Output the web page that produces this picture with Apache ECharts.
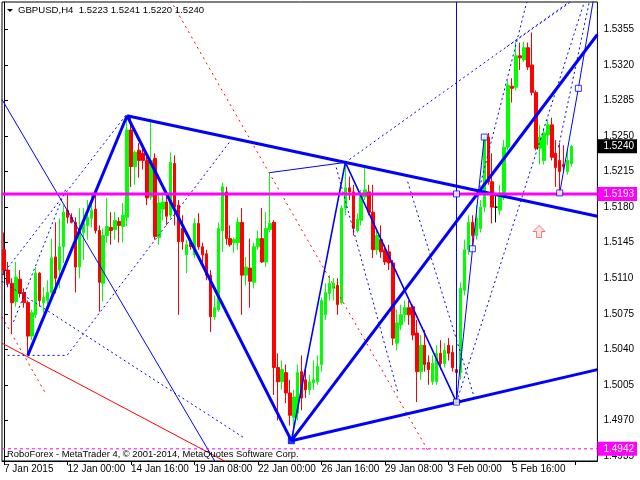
<!DOCTYPE html>
<html><head><meta charset="utf-8">
<script src="https://cdn.jsdelivr.net/npm/echarts@6/dist/echarts.min.js"></script>
<style>html,body{margin:0;padding:0;background:#fff}#c{width:640px;height:480px}</style>
</head><body><div id="c"></div>
<script>
const tickLabels = ['7 Jan 2015','12 Jan 00:00','14 Jan 16:00','19 Jan 08:00','22 Jan 00:00','26 Jan 16:00','29 Jan 08:00','3 Feb 00:00','5 Feb 16:00'];
const priceTicks = [1.4935,1.4970,1.5005,1.5040,1.5075,1.5110,1.5145,1.5180,1.5215,1.5250,1.5285,1.5320,1.5355];
const slotCount = 150;
const open = [
1.5138,1.5118,1.5105,1.5087,1.5109,1.5096,1.5086,1.5053,1.5074,1.5115,
1.5086,1.5088,1.5096,1.5131,1.5118,1.5141,1.5177,1.5170,1.5165,1.5121,
1.5155,1.5162,1.5169,1.5178,1.5157,1.5105,1.5152,1.5160,1.5158,1.5166,
1.5161,1.5170,1.5256,1.5220,1.5236,1.5233,1.5226,1.5190,1.5228,1.5150,
1.5178,1.5185,1.5172,1.5223,1.5182,1.5159,1.5133,1.5145,1.5133,1.5164,
1.5141,1.5134,1.5113,1.5072,1.5079,1.5157,1.5195,1.5149,1.5145,1.5145,
1.5165,1.5113,1.5120,1.5106,1.5141,1.5149,1.5126,1.5158,1.5165,1.5022,
1.5008,1.5017,1.4997,1.4973,1.4977,1.5018,1.5010,1.5000,1.5007,1.5008,
1.5025,1.5074,1.5095,1.5100,1.5103,1.5086,1.5179,1.5199,1.5195,1.5157,
1.5167,1.5190,1.5195,1.5175,1.5138,1.5148,1.5138,1.5136,1.5125,1.5046,
1.5064,1.5074,1.5081,1.5082,1.5056,1.5018,1.5044,1.5027,1.5008,1.5008,
1.5036,1.5026,1.5044,1.5037,1.5020,1.5017,1.5098,1.5138,1.5165,1.5152,
1.5159,1.5180,1.5249,1.5205,1.5180,1.5177,1.5189,1.5239,1.5299,1.5298,
1.5329,1.5325,1.5337,1.5320,1.5293,1.5238,1.5226,1.5251,1.5261,1.5233,
1.5226,1.5222,1.5215,1.5223];
const close = [
1.5118,1.5105,1.5086,1.5111,1.5095,1.5086,1.5053,1.5076,1.5115,1.5088,
1.5091,1.5096,1.5130,1.5110,1.5141,1.5175,1.5170,1.5165,1.5121,1.5159,
1.5164,1.5170,1.5177,1.5157,1.5106,1.5152,1.5161,1.5157,1.5167,1.5162,
1.5172,1.5256,1.5220,1.5234,1.5226,1.5226,1.5189,1.5226,1.5151,1.5184,
1.5185,1.5171,1.5224,1.5180,1.5146,1.5146,1.5143,1.5141,1.5164,1.5141,
1.5133,1.5113,1.5072,1.5081,1.5159,1.5200,1.5149,1.5143,1.5148,1.5165,
1.5113,1.5121,1.5107,1.5141,1.5149,1.5126,1.5159,1.5164,1.5022,1.5008,
1.5020,1.4997,1.4975,1.4993,1.5017,1.4992,1.5000,1.5008,1.5010,1.5023,
1.5088,1.5096,1.5105,1.5105,1.5084,1.5179,1.5199,1.5195,1.5159,1.5168,
1.5192,1.5197,1.5175,1.5138,1.5152,1.5136,1.5126,1.5125,1.5051,1.5066,
1.5074,1.5081,1.5074,1.5054,1.5018,1.5044,1.5025,1.5020,1.5026,1.5036,
1.5026,1.5039,1.5036,1.5022,1.5017,1.5100,1.5138,1.5165,1.5152,1.5169,
1.5180,1.5249,1.5205,1.5180,1.5180,1.5194,1.5239,1.5300,1.5297,1.5329,
1.5327,1.5337,1.5318,1.5293,1.5238,1.5249,1.5253,1.5261,1.5229,1.5219,
1.5215,1.5220,1.5226,1.5240];
const high = [
1.5155,1.5126,1.5110,1.5126,1.5118,1.5100,1.5088,1.5079,1.5121,1.5116,
1.5101,1.5108,1.5149,1.5165,1.5169,1.5182,1.5194,1.5174,1.5170,1.5179,
1.5179,1.5187,1.5194,1.5194,1.5162,1.5159,1.5189,1.5175,1.5175,1.5170,
1.5184,1.5270,1.5270,1.5236,1.5243,1.5240,1.5230,1.5267,1.5233,1.5194,
1.5192,1.5192,1.5234,1.5231,1.5187,1.5172,1.5148,1.5149,1.5169,1.5174,
1.5145,1.5138,1.5118,1.5093,1.5165,1.5204,1.5200,1.5162,1.5150,1.5170,
1.5179,1.5131,1.5149,1.5145,1.5157,1.5179,1.5175,1.5214,1.5167,1.5036,
1.5029,1.5025,1.5010,1.5000,1.5025,1.5034,1.5020,1.5015,1.5029,1.5034,
1.5091,1.5105,1.5113,1.5110,1.5110,1.5182,1.5224,1.5210,1.5202,1.5174,
1.5197,1.5220,1.5202,1.5202,1.5157,1.5162,1.5143,1.5143,1.5128,1.5079,
1.5084,1.5088,1.5088,1.5084,1.5069,1.5054,1.5059,1.5034,1.5034,1.5044,
1.5049,1.5046,1.5051,1.5044,1.5069,1.5106,1.5148,1.5172,1.5172,1.5182,
1.5187,1.5251,1.5253,1.5233,1.5192,1.5202,1.5246,1.5305,1.5307,1.5343,
1.5342,1.5343,1.5342,1.5352,1.5295,1.5261,1.5258,1.5266,1.5268,1.5246,
1.5243,1.5241,1.5238,1.5241];
const low = [
1.5113,1.5101,1.5056,1.5082,1.5091,1.5081,1.5034,1.5049,1.5071,1.5082,
1.5076,1.5084,1.5088,1.5095,1.5100,1.5125,1.5164,1.5164,1.5096,1.5110,
1.5128,1.5148,1.5160,1.5154,1.5077,1.5087,1.5145,1.5143,1.5148,1.5145,
1.5145,1.5161,1.5200,1.5202,1.5209,1.5217,1.5182,1.5187,1.5148,1.5143,
1.5167,1.5162,1.5169,1.5162,1.5074,1.5138,1.5115,1.5138,1.5130,1.5138,
1.5126,1.5108,1.5057,1.5069,1.5077,1.5136,1.5143,1.5141,1.5135,1.5138,
1.5074,1.5103,1.5081,1.5100,1.5138,1.5125,1.5121,1.5155,1.4995,1.4970,
1.5000,1.4987,1.4965,1.4951,1.4970,1.4980,1.4992,1.4995,1.5000,1.5005,
1.5018,1.5069,1.5088,1.5088,1.5074,1.5084,1.5172,1.5187,1.5152,1.5155,
1.5162,1.5187,1.5172,1.5130,1.5133,1.5130,1.5123,1.5118,1.5044,1.5039,
1.5059,1.5067,1.5064,1.5049,1.4988,1.5010,1.5018,1.5005,1.5005,1.5005,
1.5020,1.5022,1.5029,1.5018,1.4988,1.5010,1.5093,1.5133,1.5139,1.5148,
1.5155,1.5175,1.5202,1.5164,1.5165,1.5172,1.5187,1.5236,1.5283,1.5295,
1.5315,1.5323,1.5315,1.5290,1.5236,1.5222,1.5222,1.5241,1.5226,1.5200,
1.5194,1.5215,1.5212,1.5220];

// chart objects, in (bar index, price)
const thickLines = [
  [[6,1.5034],[31,1.5270]],
  [[31,1.5270],[72.4,1.4950]],
  [[31,1.5270],[149.5,1.5171]],
  [[72.4,1.4950],[149.5,1.5350]],
  [[72.4,1.4950],[149.5,1.5020]]
];
const mediumLines = [
  [[72.4,1.4950],[86,1.5224],[114,1.4988]]
];
const thinLines = [
  [[67,1.5214],[86,1.5224]],
  [[-0.5,1.5286],[54,1.4924]],
  [[114,1.5382],[114,1.4988]],
  [[114,1.4988],[121,1.5249]],
  [[140,1.5194],[144.7,1.5297],[149,1.5396]]
];
const dashedLines = [
  [[0.9,1.5034],[15.9,1.5034],[57.2,1.5246]],
  [[-0.5,1.5113],[31,1.5272]],
  [[2.4,1.5067],[15.7,1.5199]],
  [[86,1.5224],[147,1.5395]],
  [[-0.5,1.5107],[60.4,1.4953]],
  [[83.7,1.5219],[99.2,1.4998]],
  [[101.7,1.5205],[118.7,1.4990]],
  [[119.2,1.5190],[131.7,1.5382]],
  [[114,1.4988],[146.2,1.5382]],
  [[139.7,1.5239],[147.4,1.5381]],
  [[126.7,1.5338],[142.4,1.5381]]
];
const redDotted = [
  [[41.2,1.5389],[106.7,1.4941]],
  [[-0.5,1.5072],[10.4,1.4997]]
];
const redSolid = [
  [[-0.5,1.5046],[56,1.4929]]
];
const squares = [[114,1.5193],[118,1.5139],[121,1.5249],[114,1.4988],[140,1.5194],[144.7,1.5297]];
const pivotSquare = [[72.4,1.4950]];
const arrowPoint = [[134.8,1.5156]];
const levelLine = 1.5193;
const lowLevel = 1.4942;
const bidPrice = 1.5240;
const header = 'GBPUSD,H4  1.5223 1.5241 1.5220 1.5240';
const footer = 'RoboForex - MetaTrader 4, \u00a9 2001-2014, MetaQuotes Software Corp.';

const FONT = 'Liberation Sans';
const yMin = 1.4930, yMax = 1.5382;
const slots = [];
for (let i = 0; i < slotCount; i++) slots.push(String(i));
const candleData = open.map((o, i) => [o, close[i], low[i], high[i]]);

const series = [{
  type: 'candlestick', xAxisIndex: 0, yAxisIndex: 0, z: 2,
  barWidth: 3,
  data: candleData,
  itemStyle: { color: '#00FF00', color0: '#FF0000', borderColor: '#00FF00', borderColor0: '#FF0000', borderColorDoji: '#000000', borderWidth: 1 }
}];
function addLines(list, style, z) {
  list.forEach(pts => series.push({
    type: 'line', xAxisIndex: 1, yAxisIndex: 0, data: pts, symbol: 'none', z: z,
    lineStyle: style, silent: true, animation: false
  }));
}
addLines(redSolid, { color: '#FF0000', width: 1 }, 3);
addLines(redDotted, { color: '#FF0000', width: 1, type: [2, 4] }, 3);
addLines(dashedLines, { color: '#0000FF', width: 1, type: [2, 3] }, 4);
addLines(thinLines, { color: '#0000FF', width: 1 }, 4);
addLines(mediumLines, { color: '#0000FF', width: 1.6 }, 4);
addLines(thickLines, { color: '#0000FF', width: 3 }, 5);
addLines([[[-0.5, levelLine], [149.5, levelLine]]], { color: '#FF00FF', width: 3 }, 6);
addLines([[[-0.5, lowLevel], [149.5, lowLevel]]], { color: '#FF00FF', width: 1, type: [3, 3] }, 6);
series.push({
  type: 'scatter', xAxisIndex: 1, yAxisIndex: 0, data: squares, symbol: 'rect', symbolSize: 6, z: 7,
  itemStyle: { color: '#FFFFFF', borderColor: '#0000FF', borderWidth: 1 }, silent: true
});
series.push({
  type: 'scatter', xAxisIndex: 1, yAxisIndex: 0, data: pivotSquare, symbol: 'rect', symbolSize: 6, z: 7,
  itemStyle: { color: '#0000FF', borderColor: '#0000FF', borderWidth: 1 }, silent: true
});
series.push({
  type: 'scatter', xAxisIndex: 1, yAxisIndex: 0, data: arrowPoint, z: 7,
  symbol: 'path://M6,0 L12,6 L8.5,6 L8.5,12 L3.5,12 L3.5,6 L0,6 Z', symbolSize: [12, 12],
  itemStyle: { color: '#FFE0E0', borderColor: '#FF5050', borderWidth: 1 }, silent: true
});

const labelFont = { fontFamily: FONT, fontSize: 10, color: '#000' };
const option = {
  animation: false,
  backgroundColor: '#FFFFFF',
  grid: { left: 2, right: 39, top: 2, bottom: 19, show: true, borderColor: '#000', borderWidth: 1, backgroundColor: '#FFFFFF' },
  xAxis: [{
    type: 'category', data: slots, boundaryGap: true,
    axisLine: { show: true, lineStyle: { color: '#000', width: 1 } },
    axisTick: { show: true, interval: 15, length: 4, alignWithLabel: true, lineStyle: { color: '#000' } },
    axisLabel: Object.assign({ interval: 15, align: 'left', margin: 3,
      formatter: (v, idx) => (idx % 16 === 0 && tickLabels[idx / 16]) ? tickLabels[idx / 16] : '' }, labelFont),
    splitLine: { show: false }
  }, {
    type: 'value', min: -0.5, max: slotCount - 0.5, show: false
  }],
  yAxis: [{
    type: 'value', position: 'right', min: yMin, max: yMax, scale: true,
    axisLine: { show: true, lineStyle: { color: '#000' } },
    axisTick: { show: true, length: 4, customValues: priceTicks, lineStyle: { color: '#000' } },
    axisLabel: Object.assign({ customValues: priceTicks, margin: 6, formatter: v => v.toFixed(4) }, labelFont),
    splitLine: { show: false }
  }, {
    type: 'value', position: 'right', min: yMin, max: yMax, scale: true,
    axisLine: { show: false }, axisTick: { show: false }, splitLine: { show: false },
    axisLabel: {
      customValues: [lowLevel, levelLine, bidPrice], margin: 0,
      formatter: v => {
        const t = v.toFixed(4);
        return Math.abs(v - bidPrice) < 1e-6 ? '{k|' + t + '}' : '{m|' + t + '}';
      },
      rich: {
        k: { backgroundColor: '#000000', color: '#FFFFFF', fontFamily: FONT, fontSize: 10, lineHeight: 10, padding: [2, 3, 2, 6] },
        m: { backgroundColor: '#FF00FF', color: '#FFFFFF', fontFamily: FONT, fontSize: 10, lineHeight: 10, padding: [2, 3, 2, 6] }
      }
    }
  }],
  graphic: [
    { type: 'polygon', shape: { points: [[7, 9], [13, 9], [10, 12]] }, style: { fill: '#000' }, z: 100 },
    { type: 'text', left: 18, top: 5, style: { text: header, fontFamily: FONT, fontSize: 9.6, fill: '#000' }, z: 100 },
    { type: 'text', left: 7, top: 450, style: { text: footer, fontFamily: FONT, fontSize: 9.4, fill: '#000' }, z: 100 }
  ],
  series: series
};
const chart = echarts.init(document.getElementById('c'), null, { renderer: 'canvas' });
chart.setOption(option);
</script></body></html>
